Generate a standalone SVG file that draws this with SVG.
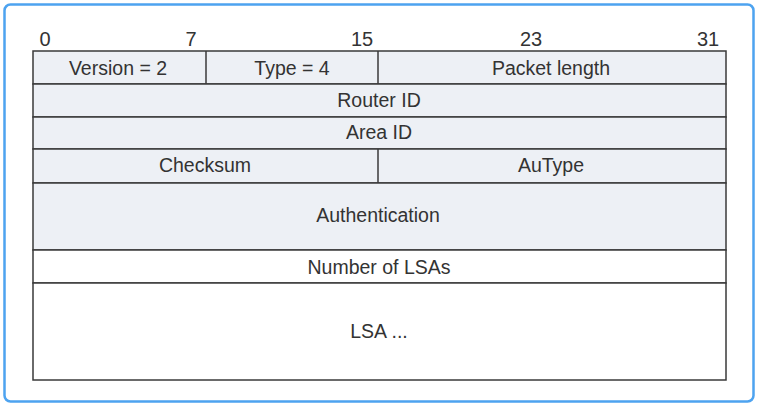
<svg xmlns="http://www.w3.org/2000/svg" width="758" height="406" viewBox="0 0 758 406">
  <style>
    .frame { fill: #ffffff; stroke: #4da3f0; stroke-width: 2.5; }
    .cell { fill: #edf0f5; stroke: #3a3a3a; stroke-width: 1.5; }
    .cell.plain { fill: #ffffff; }
    .div { stroke: #3a3a3a; stroke-width: 1.5; }
    text { font-family: "Liberation Sans", Arial, sans-serif; font-size: 19.5px; fill: #333333; }
    .lbl { text-anchor: middle; dominant-baseline: central; }
    .bit { text-anchor: middle; font-size: 20px; }
  </style>

  <!-- outer frame -->
  <rect class="frame" x="4.5" y="4.5" width="749" height="397" rx="6"/>

  <!-- bit positions -->
  <g id="bits">
    <text class="bit" x="45" y="46">0</text>
    <text class="bit" x="191" y="46">7</text>
    <text class="bit" x="362" y="46">15</text>
    <text class="bit" x="531" y="46">23</text>
    <text class="bit" x="708" y="46">31</text>
  </g>

  <!-- header row: version / type / packet length -->
  <g id="row-version">
    <rect class="cell" x="33" y="51" width="693" height="33"/>
    <line class="div" x1="206" y1="51" x2="206" y2="84"/>
    <line class="div" x1="378" y1="51" x2="378" y2="84"/>
    <text class="lbl" x="118" y="68">Version = 2</text>
    <text class="lbl" x="292" y="68">Type = 4</text>
    <text class="lbl" x="551" y="68">Packet length</text>
  </g>

  <g id="row-router">
    <rect class="cell" x="33" y="84" width="693" height="33"/>
    <text class="lbl" x="379" y="100">Router ID</text>
  </g>

  <g id="row-area">
    <rect class="cell" x="33" y="117" width="693" height="32"/>
    <text class="lbl" x="379" y="132">Area ID</text>
  </g>

  <g id="row-checksum">
    <rect class="cell" x="33" y="149" width="693" height="34"/>
    <line class="div" x1="378" y1="149" x2="378" y2="183"/>
    <text class="lbl" x="205" y="165">Checksum</text>
    <text class="lbl" x="551" y="165">AuType</text>
  </g>

  <g id="row-auth">
    <rect class="cell" x="33" y="183" width="693" height="67"/>
    <text class="lbl" x="378" y="215">Authentication</text>
  </g>

  <g id="row-count">
    <rect class="cell plain" x="33" y="250" width="693" height="33"/>
    <text class="lbl" x="379" y="267">Number of LSAs</text>
  </g>

  <g id="row-lsa">
    <rect class="cell plain" x="33" y="283" width="693" height="97"/>
    <text class="lbl" x="379" y="331">LSA ...</text>
  </g>

  <g id="connectors"></g>
</svg>
